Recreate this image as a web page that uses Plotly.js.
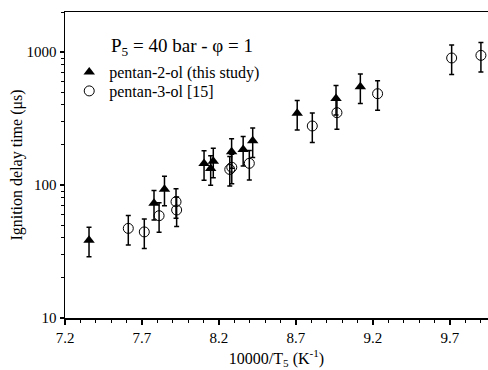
<!DOCTYPE html>
<html>
<head>
<meta charset="utf-8">
<script src="https://cdn.plot.ly/plotly-3.0.1.min.js"></script>
<style>html,body{margin:0;padding:0;background:#fff;}#chart{width:488px;height:370px;}</style>
</head>
<body>
<div id="chart"></div>
<script>
// pentan-2-ol (this study)
const p2x = [7.356, 7.778, 7.846, 8.103, 8.146, 8.163, 8.282, 8.357, 8.419, 8.708, 8.960, 9.118];
const p2y = [38.5, 72.8, 93, 145, 133, 151, 178, 185, 215, 346, 448, 548];
// pentan-3-ol [15]
const p3x = [7.611, 7.715, 7.811, 7.921, 7.925, 8.270, 8.283, 8.397, 8.806, 8.966, 9.230, 9.711, 9.901];
const p3y = [47.2, 44.4, 58.8, 74.9, 64.9, 131, 136, 145.6, 278, 350, 486, 902, 944];
// uncertainty (%)
const errPct = 25;
// tick labels
const yTickVals = [10, 100, 1000];
const yTickText = ["10", "100", "1000"];
const seriesNames = ["pentan-2-ol (this study)", "pentan-3-ol [15]"];

const FONT = "Liberation Serif, Times New Roman, serif";
const errStyle = {type: 'percent', value: errPct, color: '#000', thickness: 1.5, width: 2.5, visible: true};

const traces = [
  {x: p2x, y: p2y, name: seriesNames[0], mode: 'markers', type: 'scatter', legend: 'legend',
   marker: {symbol: 'triangle-up', size: 10, color: '#000'},
   error_y: errStyle},
  {x: p3x, y: p3y, name: seriesNames[1], mode: 'markers', type: 'scatter', legend: 'legend2',
   marker: {symbol: 'circle-open', size: 10, color: '#000', line: {width: 1, color: '#000'}},
   error_y: errStyle}
];

const legFont = {family: FONT, size: 16, color: '#000'};
const layout = {
  width: 488, height: 370,
  margin: {l: 65, r: 0, t: 12, b: 52, pad: 0},
  paper_bgcolor: '#fff', plot_bgcolor: '#fff',
  font: {family: FONT, color: '#000', size: 15},
  showlegend: true,
  legend: {x: 0.01, y: 1 - (72 - 12) / 306, xanchor: 'left', yanchor: 'middle', bgcolor: 'rgba(0,0,0,0)',
           font: legFont, itemwidth: 30, borderwidth: 0},
  legend2: {x: 0.01, y: 1 - (91 - 12) / 306, xanchor: 'left', yanchor: 'middle', bgcolor: 'rgba(0,0,0,0)',
           font: legFont, itemwidth: 30, borderwidth: 0},
  xaxis: {
    range: [7.2, 9.947], tick0: 7.2, dtick: 0.5, tickmode: 'linear',
    showgrid: false, zeroline: false,
    showline: true, linecolor: '#000', linewidth: 1.5, mirror: true,
    ticks: 'outside', ticklen: 5, tickwidth: 1.5, tickcolor: '#000',
    minor: {dtick: 0.1, tick0: 7.2, ticks: 'outside', ticklen: 3, tickwidth: 1, tickcolor: '#000', showgrid: false},
    tickfont: {family: FONT, size: 15},
    title: {text: '10000/T<sub>5</sub> (K<sup>-1</sup>)', font: {family: FONT, size: 16}, standoff: 8}
  },
  yaxis: {
    type: 'log', range: [1, Math.log10(2000)],
    tickmode: 'array', tickvals: yTickVals, ticktext: yTickText,
    showgrid: false, zeroline: false,
    showline: true, linecolor: '#000', linewidth: 1.5,
    ticks: 'outside', ticklen: 4, tickwidth: 1.5, tickcolor: '#000',
    minor: {dtick: 'D1', ticks: 'outside', ticklen: 2.5, tickwidth: 1, tickcolor: '#000', showgrid: false},
    tickfont: {family: FONT, size: 15},
    title: {text: 'Ignition delay time (μs)', font: {family: FONT, size: 16}, standoff: 0}
  },
  annotations: [
    {xref: 'paper', yref: 'paper', x: (182 - 65) / 423, y: 1 - (47 - 12) / 306, xanchor: 'center', yanchor: 'middle',
     text: 'P<sub>5</sub> = 40 bar - φ = 1', showarrow: false, font: {family: FONT, size: 19, color: '#000'}}
  ]
};

Plotly.newPlot('chart', traces, layout, {staticPlot: true, displayModeBar: false});
</script>
</body>
</html>
